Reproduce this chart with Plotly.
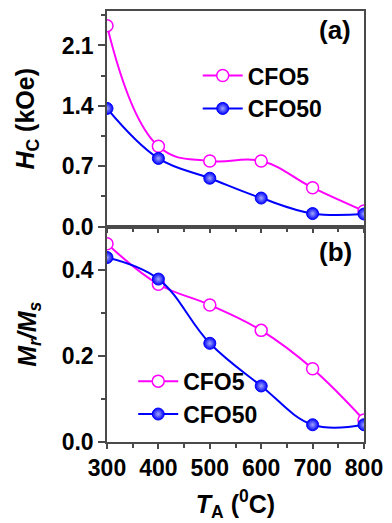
import plotly.graph_objects as go

# ---- data ----
ta = [300, 400, 500, 600, 700, 800]
hc_cfo5 = [2.33, 0.93, 0.76, 0.76, 0.45, 0.18]
hc_cfo50 = [1.37, 0.79, 0.56, 0.33, 0.15, 0.145]
mr_cfo5 = [0.46, 0.366, 0.318, 0.259, 0.17, 0.051]
mr_cfo50 = [0.428, 0.378, 0.229, 0.13, 0.04, 0.04]
x_ticks = [300, 400, 500, 600, 700, 800]
hc_ticks = [0.0, 0.7, 1.4, 2.1]
mr_ticks = [0.0, 0.2, 0.4]

MAG = "#ff00ff"
BLUE = "#0000ff"
FONT = "Liberation Sans, Arial, sans-serif"
AXC = "#4a4a4a"

fig = go.Figure()

open_marker = dict(symbol="circle", size=12, color="white", line=dict(color=MAG, width=1.5))
ball_marker = dict(symbol="circle", size=12, color=BLUE, line=dict(color=BLUE, width=1),
                   gradient=dict(type="radial", color="#a0a8ff"))

fig.add_trace(go.Scatter(x=ta, y=hc_cfo5, name="CFO5", mode="lines+markers",
                         line=dict(color=MAG, width=2, shape="spline", smoothing=1.2),
                         marker=open_marker, xaxis="x", yaxis="y", legend="legend"))
fig.add_trace(go.Scatter(x=ta, y=hc_cfo50, name="CFO50", mode="lines+markers",
                         line=dict(color=BLUE, width=2, shape="spline", smoothing=1.1),
                         marker=ball_marker, xaxis="x", yaxis="y", legend="legend"))
fig.add_trace(go.Scatter(x=ta, y=mr_cfo5, name="CFO5", mode="lines+markers",
                         line=dict(color=MAG, width=2, shape="spline", smoothing=1.1),
                         marker=open_marker, xaxis="x2", yaxis="y2", legend="legend2"))
fig.add_trace(go.Scatter(x=ta, y=mr_cfo50, name="CFO50", mode="lines+markers",
                         line=dict(color=BLUE, width=2, shape="spline", smoothing=1.1),
                         marker=ball_marker, xaxis="x2", yaxis="y2", legend="legend2"))

tickfont = dict(family=FONT, size=23, color="black", weight="bold")
common_axis = dict(showline=True, linecolor=AXC, linewidth=1.5, mirror=True,
                   ticks="outside", tickcolor=AXC, tickwidth=1.5, showgrid=False,
                   zeroline=False, tickfont=tickfont)
title_font = dict(family=FONT, size=25, color="black")

fig.update_layout(
    width=392, height=523,
    margin=dict(l=107, r=22, t=9, b=80),
    paper_bgcolor="white", plot_bgcolor="white",
    font=dict(family=FONT, color="black"),
    xaxis=dict(domain=[0, 1], anchor="y", range=[300, 800], tickvals=x_ticks,
               showticklabels=False, ticklen=5,
               minor=dict(dtick=50, tick0=300, ticklen=4, ticks="outside", tickcolor=AXC, tickwidth=1.5),
               **common_axis),
    yaxis=dict(domain=[0.5, 1], anchor="x", range=[0, 2.5], tickvals=hc_ticks,
               tickformat=".1f", ticklen=7,
               minor=dict(dtick=0.35, tick0=0, ticklen=4, ticks="outside", tickcolor=AXC, tickwidth=1.5),
               title=dict(text="<b><i>H</i><sub>C</sub> (kOe)</b>", font=title_font, standoff=20),
               **common_axis),
    xaxis2=dict(domain=[0, 1], anchor="y2", range=[300, 800], tickvals=x_ticks, ticklen=5,
                minor=dict(dtick=50, tick0=300, ticklen=4, ticks="outside", tickcolor=AXC, tickwidth=1.5),
                title=dict(text="<b><i>T</i><sub>A</sub> (<sup>0</sup>C)</b>", font=title_font, standoff=15),
                **common_axis),
    yaxis2=dict(domain=[0, 0.5], anchor="x2", range=[0, 0.5], tickvals=mr_ticks,
                tickformat=".1f", ticklen=7,
                minor=dict(dtick=0.1, tick0=0, ticklen=4, ticks="outside", tickcolor=AXC, tickwidth=1.5),
                title=dict(text="<b><i>M</i><sub><i>r</i></sub><i>/M</i><sub><i>s</i></sub></b>",
                           font=title_font, standoff=18),
                **common_axis),
    legend=dict(x=0.353, y=0.9, xanchor="left", yanchor="top", bgcolor="rgba(0,0,0,0)",
                font=dict(family=FONT, size=23, color="black", weight="bold"),
                tracegroupgap=0, itemwidth=40),
    legend2=dict(x=0.102, y=0.191, xanchor="left", yanchor="top", bgcolor="rgba(0,0,0,0)",
                 font=dict(family=FONT, size=23, color="black", weight="bold"),
                 tracegroupgap=0, itemwidth=40),
    showlegend=True,
    annotations=[
        dict(text="<b>(a)</b>", x=0.888, y=0.956, xref="paper", yref="paper",
             xanchor="center", yanchor="middle", showarrow=False,
             font=dict(family=FONT, size=26, color="black")),
        dict(text="<b>(b)</b>", x=0.888, y=0.44, xref="paper", yref="paper",
             xanchor="center", yanchor="middle", showarrow=False,
             font=dict(family=FONT, size=26, color="black")),
    ],
)

fig.write_html("out.html")
